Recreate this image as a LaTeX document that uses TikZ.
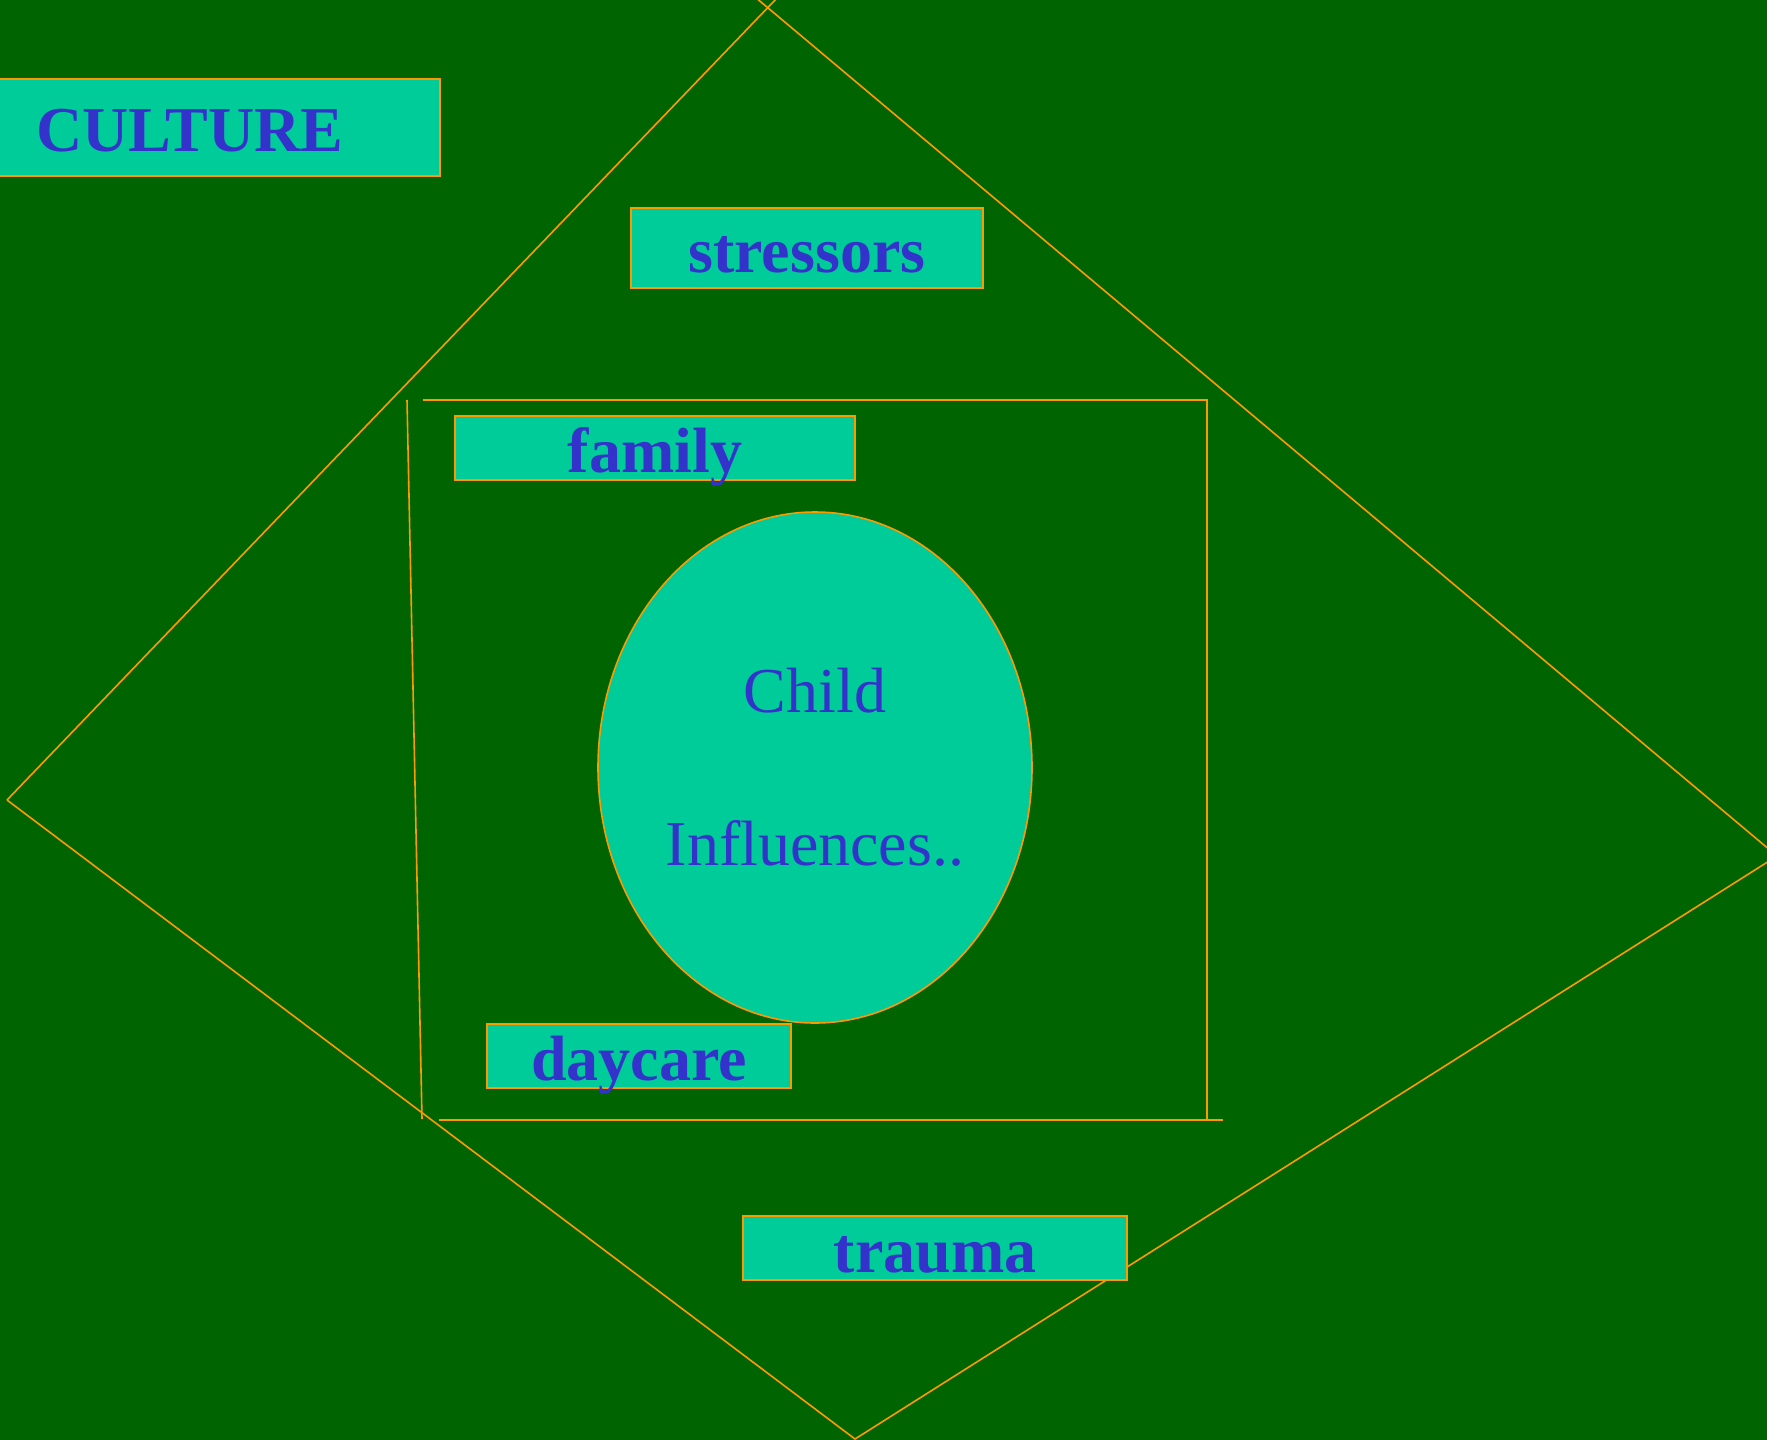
\documentclass[tikz,border=0pt]{standalone}
\usepackage{fontspec}
\setmainfont{Liberation Serif}
\usetikzlibrary{shapes.geometric}
\definecolor{bggreen}{RGB}{0,100,0}
\definecolor{boxfill}{RGB}{0,204,153}
\definecolor{txtblue}{RGB}{51,51,204}
\definecolor{lineor}{RGB}{255,153,0}
\tikzset{
  lbox/.style={draw=lineor, line width=1pt, fill=boxfill, text=txtblue,
    font=\bfseries\fontsize{32}{36}\selectfont, inner sep=0pt,
    text height=24pt, text depth=0pt},
  oline/.style={draw=lineor, line width=0.8pt}
}
\begin{document}
\begin{tikzpicture}[x=0.5pt,y=-0.5pt]
\fill[bggreen] (0,0) rectangle (1767,1440);
\useasboundingbox (0,0) rectangle (1767,1440);
\clip (0,0) rectangle (1767,1440);
% outer diamond
\coordinate (dl) at (7,800);
\coordinate (dtl) at (778,-3);
\coordinate (dtr) at (755,-3);
\coordinate (dr) at (1777,856);
\coordinate (db) at (855,1439);
\draw[oline] (dl) -- (dtl);
\draw[oline] (dtr) -- (dr) -- (db) -- (dl);
% inner square (open lines)
\coordinate (stl) at (423,400);
\coordinate (str) at (1207,400);
\coordinate (srb) at (1207,1120);
\coordinate (sbl) at (439,1120);
\coordinate (sbr) at (1223,1120);
\coordinate (slt) at (407,400);
\coordinate (slb) at (422,1119);
\draw[oline] (stl) -- (str) -- (srb);
\draw[oline] (sbl) -- (sbr);
\draw[oline] (slt) -- (slb);
% boxes
\node[lbox, minimum width=250pt, minimum height=48.5pt] (culture) at (190,127.5) {CULTURE};
\node[lbox, minimum width=176pt, minimum height=40pt] (stressors) at (807,248) {stressors};
\node[lbox, minimum width=200pt, minimum height=32pt] (family) at (655,448) {family};
\node[lbox, minimum width=152pt, minimum height=32pt] (daycare) at (639,1056) {daycare};
\node[lbox, minimum width=192pt, minimum height=32pt] (trauma) at (935,1248) {trauma};
% child ellipse
\node[ellipse, draw=lineor, line width=0.8pt, fill=boxfill, text=txtblue,
  minimum width=217pt, minimum height=255.5pt, inner sep=0pt, align=center,
  font=\fontsize{32}{76.5}\selectfont] (child) at (815,767.5) {Child\\Influences..};
\end{tikzpicture}
\end{document}
